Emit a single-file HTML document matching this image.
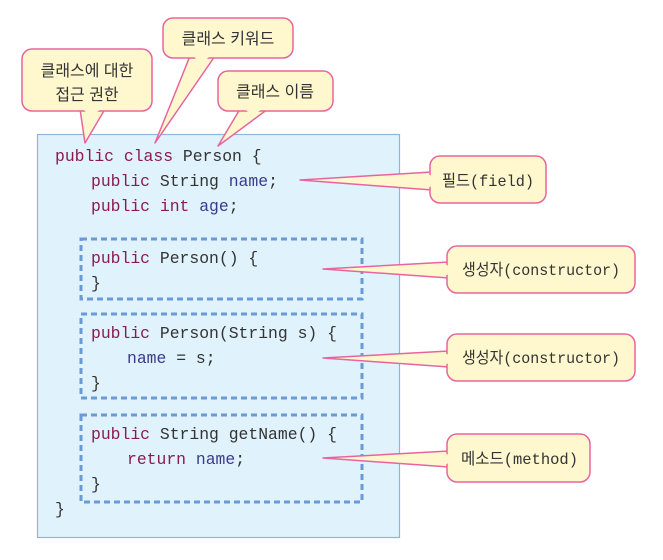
<!DOCTYPE html>
<html><head><meta charset="utf-8"><style>
html,body{margin:0;padding:0;background:#fff;}
svg{display:block;}
.code{font-family:"Liberation Mono",monospace;font-size:16.4px;}
.k{fill:#8a1b4e}.t{fill:#333}.v{fill:#3a3a8c}
.lbl{font-family:"Liberation Sans","Noto Sans CJK KR",sans-serif;font-size:16px;fill:#333;}
.lm{font-family:"Liberation Mono","Noto Sans CJK KR",monospace;font-size:16px;fill:#333;}
</style></head><body>
<svg width="663" height="560" viewBox="0 0 663 560" xmlns="http://www.w3.org/2000/svg">
<rect x="37.5" y="134.5" width="362" height="403" fill="#e0f2fc" stroke="#8fb4de" stroke-width="1.2"/>
<g fill="none" stroke="#6a9bd6" stroke-width="3" stroke-dasharray="6,4">
<rect x="81" y="239" width="281" height="60"/>
<rect x="81" y="314" width="281" height="84"/>
<rect x="81" y="415" width="281" height="87"/>
</g>
<g class="code">
<text x="55" y="161"><tspan class="k">public class </tspan><tspan class="t">Person {</tspan></text>
<text x="91" y="186"><tspan class="k">public </tspan><tspan class="t">String </tspan><tspan class="v">name</tspan><tspan class="t">;</tspan></text>
<text x="91" y="211"><tspan class="k">public int </tspan><tspan class="v">age</tspan><tspan class="t">;</tspan></text>
<text x="91" y="263"><tspan class="k">public </tspan><tspan class="t">Person() {</tspan></text>
<text x="91" y="288" class="t">}</text>
<text x="91" y="338"><tspan class="k">public </tspan><tspan class="t">Person(String s) {</tspan></text>
<text x="127" y="363"><tspan class="v">name</tspan><tspan class="t"> = s;</tspan></text>
<text x="91" y="388" class="t">}</text>
<text x="91" y="439"><tspan class="k">public </tspan><tspan class="t">String getName() {</tspan></text>
<text x="127" y="464"><tspan class="k">return </tspan><tspan class="v">name</tspan><tspan class="t">;</tspan></text>
<text x="91" y="489" class="t">}</text>
<text x="55" y="514" class="t">}</text>
</g>
<g fill="#fff8cf" stroke="#e8649e" stroke-width="1.5" stroke-linejoin="round">
<polygon points="80,109 105,109 85,143"/>
<polygon points="190,56 215,56 155,143"/>
<polygon points="240,109 268,109 218,146"/>
<polygon points="432,172 432,190 300,180"/>
<polygon points="449,262 449,278 323,269"/>
<polygon points="449,351 449,367 323,358"/>
<polygon points="449,451 449,467 323,458"/>
<rect x="22" y="49" width="130" height="62" rx="10"/>
<rect x="163" y="18" width="130" height="40" rx="10"/>
<rect x="218" y="71" width="115" height="40" rx="10"/>
<rect x="430" y="156" width="116" height="47" rx="10"/>
<rect x="447" y="246" width="188" height="47" rx="10"/>
<rect x="447" y="334" width="188" height="47" rx="10"/>
<rect x="447" y="434" width="143" height="48" rx="10"/>
</g>
<g fill="#fff8cf">
<polygon points="82,107 103,107 90,118"/>
<polygon points="192,54 213,54 200,64"/>
<polygon points="243,107 265,107 252,116"/>
<polygon points="428,174 428,188 440,181"/>
<polygon points="445,264 445,276 455,270"/>
<polygon points="445,353 445,365 455,359"/>
<polygon points="445,453 445,465 455,459"/>
</g>
<g class="lbl" text-anchor="middle">
<text x="87" y="76">클래스에 대한</text>
<text x="87" y="100">접근 권한</text>
<text x="228" y="44">클래스 키워드</text>
<text x="275" y="97">클래스 이름</text>
</g>
<g class="lm">
<text x="442" y="186" textLength="92" lengthAdjust="spacingAndGlyphs">필드(field)</text>
<text x="462" y="275" textLength="158" lengthAdjust="spacingAndGlyphs">생성자(constructor)</text>
<text x="462" y="363" textLength="158" lengthAdjust="spacingAndGlyphs">생성자(constructor)</text>
<text x="461" y="464" textLength="117" lengthAdjust="spacingAndGlyphs">메소드(method)</text>
</g>
</svg>
</body></html>
